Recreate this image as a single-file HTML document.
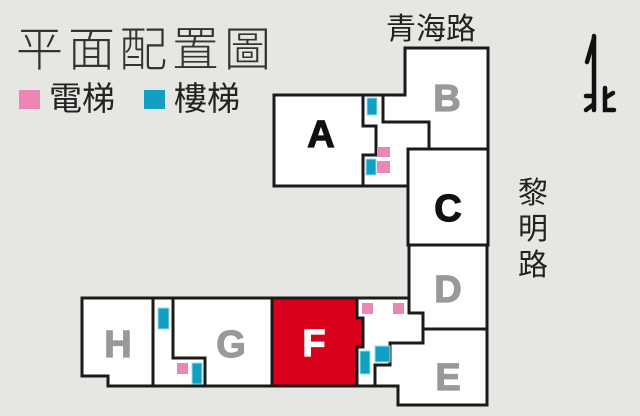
<!DOCTYPE html>
<html><head><meta charset="utf-8"><style>
body{margin:0;width:640px;height:416px;background:#e6e7e2;overflow:hidden;position:relative;font-family:"Liberation Sans","Noto Sans CJK TC",sans-serif}
.t{position:absolute;white-space:nowrap;color:#222}
</style></head><body>
<div class="t" style="left:16px;top:11px;font-size:47px;font-weight:300;letter-spacing:5px;color:#333;font-family:'Noto Sans CJK TC',sans-serif">平面配置圖</div>
<div style="position:absolute;left:19px;top:90px;width:21px;height:19px;background:#ec87b5"></div>
<div class="t" style="left:49px;top:72px;font-size:33px;font-family:'Noto Sans CJK TC',sans-serif">電梯</div>
<div style="position:absolute;left:144px;top:90px;width:21px;height:19px;background:#139fc2"></div>
<div class="t" style="left:174px;top:72px;font-size:33px;font-family:'Noto Sans CJK TC',sans-serif">樓梯</div>
<div class="t" style="left:386px;top:4px;font-size:30px;font-family:'Noto Sans CJK TC',sans-serif">青海路</div>
<div class="t" style="left:518px;top:172px;font-size:30px;line-height:36px;width:32px;white-space:normal;font-family:'Noto Sans CJK TC',sans-serif">黎明路</div>
<svg width="640" height="416" style="position:absolute;left:0;top:0">
<g stroke="#1a1a1a" stroke-width="3" fill="#fff" stroke-linejoin="miter">
<polygon points="405,48 488,48 488,149 429,149 429,122 383,122 383,95 405,95"/>
<polygon points="274,95 363,95 363,126 376,126 376,155 363,155 363,186 274,186"/>
<polygon points="363,95 383,95 383,122 429,122 429,163 408,163 408,186 363,186 363,155 376,155 376,126 363,126"/>
<polygon points="408,149 488,149 488,245 408,245"/>
<polygon points="409,245 487,245 487,329 423,329 423,313 409,313"/>
<polygon points="423,329 487,329 487,405 398,405 398,386 375,386 375,365 390,365 390,343 423,343"/>
<polygon points="357,298 409,298 409,313 423,313 423,343 390,343 390,365 375,365 375,386 357,386 357,347 363,347 363,318 357,318"/>
<polygon points="82,298 153,298 153,386 108,386 108,376 82,376"/>
<polygon points="153,298 173,298 173,358 205,358 205,386 153,386"/>
<polygon points="173,298 272,298 272,386 205,386 205,358 173,358"/>
<polygon points="272,298 357,298 357,318 363,318 363,347 357,347 357,386 272,386" fill="#d8001a"/>
</g>
<g fill="#139fc2" stroke="#8fe0ef" stroke-width="1">
<rect x="367" y="98" width="10" height="17"/>
<rect x="366" y="159" width="10" height="16"/>
<rect x="158" y="308" width="11" height="21"/>
<rect x="192" y="363" width="10" height="21"/>
<rect x="360" y="351" width="10" height="23"/>
<rect x="375" y="346" width="15" height="16"/>
</g>
<g fill="#ec87b5">
<rect x="377" y="147" width="13" height="10"/>
<rect x="377" y="161" width="13" height="12"/>
<rect x="177" y="363" width="11" height="11"/>
<rect x="362" y="303" width="11" height="11"/>
<rect x="393" y="303" width="11" height="11"/>
</g>
<g font-family="Liberation Sans,sans-serif" font-weight="bold" font-size="38" text-anchor="middle" stroke-width="1.2">
<text x="321" y="147" fill="#111" stroke="#111">A</text>
<text x="447" y="111" fill="#999" stroke="#999">B</text>
<text x="448" y="221" fill="#111" stroke="#111">C</text>
<text x="448" y="302" fill="#999" stroke="#999">D</text>
<text x="448" y="390" fill="#999" stroke="#999">E</text>
<text x="314" y="356" fill="#fff" stroke="#fff">F</text>
<text x="231" y="357" fill="#999" stroke="#999">G</text>
<text x="118" y="357" fill="#999" stroke="#999">H</text>
</g>
<g stroke="#111" stroke-width="4.5" fill="none" stroke-linecap="round">
<line x1="594" y1="36" x2="594" y2="110"/>
<line x1="594" y1="38" x2="587" y2="62"/>
<line x1="586" y1="96" x2="594" y2="96"/>
<line x1="586" y1="110" x2="594" y2="104"/>
<path d="M605,88 L605,110 L614,110"/>
<line x1="605" y1="98" x2="613" y2="93"/>
</g>
</svg>
</body></html>
